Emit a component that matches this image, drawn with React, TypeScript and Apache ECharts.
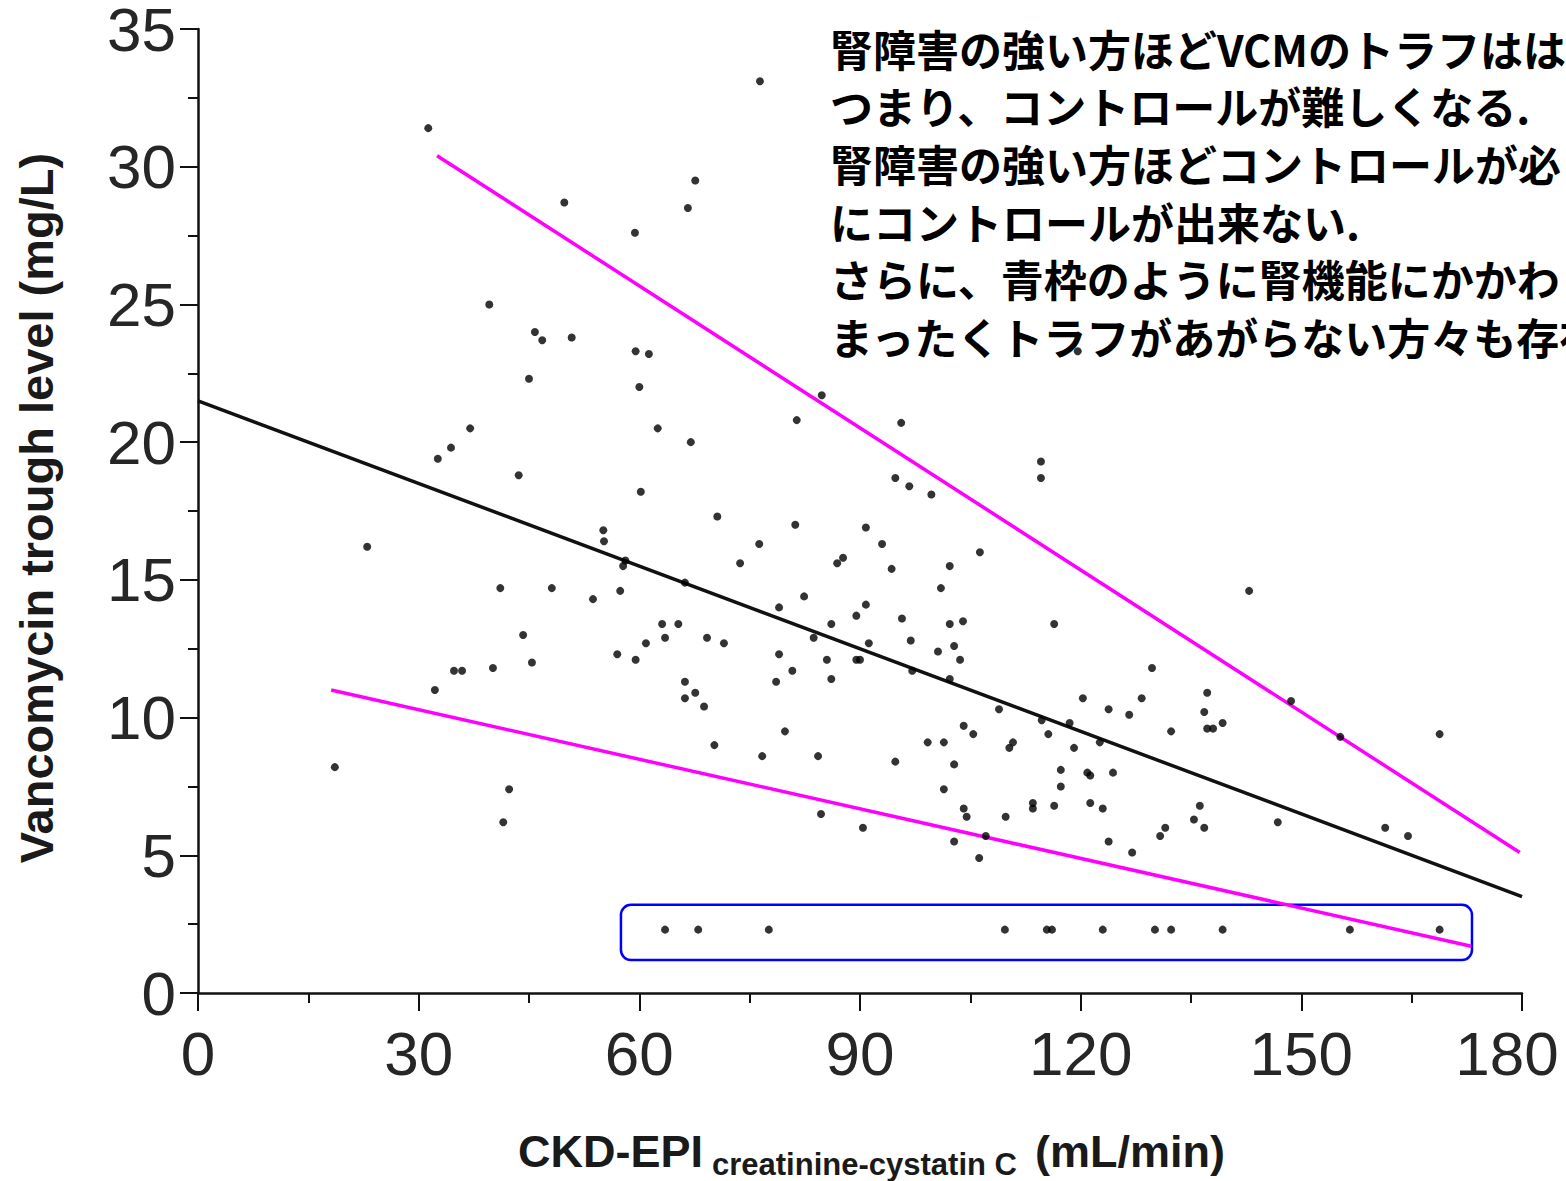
import React, { useEffect, useRef } from "react";
import * as echarts from "echarts";

// ---- data ----
const xTicks = [0, 30, 60, 90, 120, 150, 180];
const yTicks = [0, 5, 10, 15, 20, 25, 30, 35];

const points: number[][] = [
  [31.3, 31.4], [76.4, 33.1], [67.6, 29.5], [66.6, 28.5], [49.8, 28.7], [59.4, 27.6], [39.6, 25.0],
  [45.8, 24.0], [46.8, 23.7], [50.8, 23.8], [59.5, 23.3], [61.3, 23.2],
  [45.0, 22.3], [60.0, 22.0], [37.0, 20.5], [34.4, 19.8], [32.6, 19.4], [62.5, 20.5], [67.0, 20.0], [81.4, 20.8],
  [43.6, 18.8], [60.2, 18.2], [84.8, 21.7], [95.6, 20.7], [119.6, 23.3], [114.6, 19.3], [114.6, 18.7],
  [94.8, 18.7], [96.7, 18.4], [99.7, 18.1],
  [81.2, 17.0], [76.3, 16.3], [90.8, 16.9], [93.0, 16.3], [87.7, 15.8], [86.9, 15.6], [94.3, 15.4],
  [102.2, 15.5], [106.3, 16.0], [101.0, 14.7], [73.7, 15.6], [82.4, 14.4], [79.0, 14.0], [90.8, 14.1],
  [89.5, 13.7], [86.1, 13.4], [83.7, 12.9], [95.7, 13.6], [102.2, 13.4], [104.0, 13.5], [91.2, 12.7],
  [96.9, 12.8], [100.6, 12.4], [102.8, 12.6], [103.6, 12.1], [79.0, 12.3], [85.5, 12.1], [89.5, 12.1],
  [90.0, 12.1], [80.8, 11.7], [78.6, 11.3], [86.1, 11.4], [97.1, 11.7], [102.2, 11.4], [116.4, 13.4],
  [129.7, 11.8], [120.3, 10.7], [128.3, 10.7],
  [70.6, 17.3], [55.1, 16.8], [55.2, 16.4], [57.8, 15.5], [58.1, 15.7], [66.2, 14.9], [23.0, 16.2],
  [41.1, 14.7], [48.1, 14.7], [53.7, 14.3], [57.4, 14.6], [63.1, 13.4], [65.3, 13.4], [63.5, 12.9],
  [60.9, 12.7], [69.2, 12.9], [71.5, 12.7], [44.2, 13.0], [57.0, 12.3], [59.5, 12.1], [34.8, 11.7],
  [35.9, 11.7], [40.1, 11.8], [45.4, 12.0], [32.2, 11.0], [66.2, 11.3], [67.6, 10.9], [66.2, 10.7],
  [68.8, 10.4], [79.8, 9.5], [70.2, 9.0], [76.7, 8.6], [18.6, 8.2], [42.3, 7.4], [41.5, 6.2],
  [84.3, 8.6], [94.8, 8.4], [99.2, 9.1], [101.4, 9.1], [104.1, 9.7], [105.4, 9.4], [102.8, 8.3],
  [108.9, 10.3], [114.7, 9.9], [115.6, 9.4], [118.5, 9.8], [123.8, 10.3], [126.6, 10.1], [110.3, 8.9],
  [110.8, 9.1], [119.1, 8.9], [122.6, 9.1], [117.3, 8.1], [120.9, 8.0], [121.3, 7.9], [124.4, 8.0],
  [117.3, 7.5], [101.4, 7.4], [104.1, 6.7], [104.5, 6.4], [109.8, 6.4], [113.5, 6.9], [113.5, 6.7],
  [116.4, 6.8], [121.3, 6.9], [123.0, 6.7], [123.8, 5.5], [127.0, 5.1], [107.1, 5.7], [102.8, 5.5],
  [106.2, 4.9], [84.7, 6.5], [90.4, 6.0], [130.8, 5.7], [131.5, 6.0],
  [142.9, 14.6], [137.2, 10.9], [136.8, 10.2], [139.3, 9.8], [137.2, 9.6], [138.0, 9.6], [132.3, 9.5],
  [148.6, 10.6], [155.3, 9.3], [168.8, 9.4], [136.2, 6.8], [135.4, 6.3], [136.8, 6.0], [146.8, 6.2],
  [161.4, 6.0], [164.5, 5.7],
  [63.5, 2.3], [68.0, 2.3], [77.6, 2.3], [109.7, 2.3], [115.4, 2.3], [116.1, 2.3], [123.0, 2.3],
  [130.1, 2.3], [132.3, 2.3], [139.3, 2.3], [156.6, 2.3], [168.8, 2.3],
];

const regressionLine = [[0, 21.5], [180, 3.5]];
const upperLine = [[32.5, 30.4], [179.7, 5.1]];
const lowerLine = [[18.1, 11.0], [173.1, 1.7]];
const blueBox = [[57.5, 173.2, 1.2, 3.2]];

const noteLines = [
  "腎障害の強い方ほどVCMのトラフはは",
  "つまり、コントロールが難しくなる.",
  "腎障害の強い方ほどコントロールが必",
  "にコントロールが出来ない.",
  "さらに、青枠のように腎機能にかかわ",
  "まったくトラフがあがらない方々も存在",
];

const yName = "Vancomycin trough level (mg/L)";
const xNameMain = "CKD-EPI";
const xNameSub = "creatinine-cystatin C";
const xNameUnit = "(mL/min)";

export default function App() {
  const ref = useRef<HTMLDivElement>(null);
  useEffect(() => {
    if (!ref.current) return;
    const chart = echarts.init(ref.current, undefined, { renderer: "svg" });
    const latin = "Liberation Sans, Arial, sans-serif";
    const lastX = xTicks[xTicks.length - 1];
    const axisCommon = {
      type: "value" as const,
      axisLine: { show: true, lineStyle: { color: "#111", width: 2.5 } },
      axisTick: { show: true, inside: false, length: 18, lineStyle: { color: "#111", width: 2 } },
      minorTick: { show: true, splitNumber: 2, length: 10, lineStyle: { color: "#111", width: 2 } },
      splitLine: { show: false },
    };
    chart.setOption({
      animation: false,
      backgroundColor: "#ffffff",
      grid: {
        left: 198,
        right: 44,
        top: 29,
        bottom: 188,
        containLabel: false,
        outerBoundsMode: "none",
      },
      xAxis: {
        ...axisCommon,
        min: xTicks[0],
        max: lastX,
        interval: 30,
        axisLabel: {
          fontSize: 62,
          color: "#262626",
          fontFamily: latin,
          margin: 29,
          formatter: (v: number) => (v === lastX ? `{last|${v}}` : `${v}`),
          rich: {
            last: { fontSize: 62, color: "#262626", fontFamily: latin, padding: [0, 30, 0, 0] },
          },
        },
      },
      yAxis: {
        ...axisCommon,
        min: yTicks[0],
        max: yTicks[yTicks.length - 1],
        interval: 5,
        axisLabel: {
          fontSize: 62,
          lineHeight: 50,
          color: "#262626",
          fontFamily: latin,
          margin: 22,
          padding: [16, 0, 0, 0],
        },
      },
      series: [
        {
          type: "line",
          data: regressionLine,
          symbol: "none",
          lineStyle: { color: "#111", width: 3.5 },
          silent: true,
          z: 2,
        },
        {
          type: "line",
          data: upperLine,
          symbol: "none",
          lineStyle: { color: "#ff00ff", width: 3.5 },
          silent: true,
          z: 3,
        },
        {
          type: "line",
          data: lowerLine,
          symbol: "none",
          lineStyle: { color: "#ff00ff", width: 3.5 },
          silent: true,
          z: 3,
        },
        {
          type: "custom",
          data: blueBox,
          clip: false,
          encode: { x: [0, 1], y: [2, 3] },
          renderItem: (params: any, api: any) => {
            const p0 = api.coord([api.value(0), api.value(3)]);
            const p1 = api.coord([api.value(1), api.value(2)]);
            return {
              type: "rect",
              shape: { x: p0[0], y: p0[1], width: p1[0] - p0[0], height: p1[1] - p0[1], r: 10 },
              style: { fill: "none", stroke: "#0000ff", lineWidth: 2.5 },
            };
          },
          z: 3,
        },
        {
          type: "scatter",
          data: points,
          symbol: "circle",
          symbolSize: 8,
          itemStyle: { color: "#000" },
          z: 4,
        },
      ],
      graphic: [
        {
          type: "text",
          x: 36,
          y: 508,
          rotation: Math.PI / 2,
          style: {
            text: yName,
            font: `bold 47px ${latin}`,
            fill: "#1a1a1a",
            align: "center",
            verticalAlign: "middle",
          },
        },
        {
          type: "text",
          x: 518,
          y: 1151,
          style: {
            text: xNameMain,
            font: `bold 45px ${latin}`,
            fill: "#1a1a1a",
            align: "left",
            verticalAlign: "middle",
          },
        },
        {
          type: "text",
          x: 712,
          y: 1164,
          style: {
            text: xNameSub,
            font: `bold 31px ${latin}`,
            fill: "#1a1a1a",
            align: "left",
            verticalAlign: "middle",
          },
        },
        {
          type: "text",
          x: 1035,
          y: 1151,
          style: {
            text: xNameUnit,
            font: `bold 45px ${latin}`,
            fill: "#1a1a1a",
            align: "left",
            verticalAlign: "middle",
          },
        },
        {
          type: "text",
          x: 830,
          y: 19,
          z: 10,
          style: {
            text: noteLines.join("\n"),
            fontFamily: "Noto Sans CJK JP",
            fontWeight: "bold",
            fontSize: 43,
            lineHeight: 57.6,
            fill: "#000",
            align: "left",
            verticalAlign: "top",
          },
        },
      ],
    });
    return () => chart.dispose();
  }, []);
  return (
    <div
      ref={ref}
      style={{ position: "fixed", left: 0, top: 0, width: 1566, height: 1181, background: "#fff" }}
    />
  );
}
